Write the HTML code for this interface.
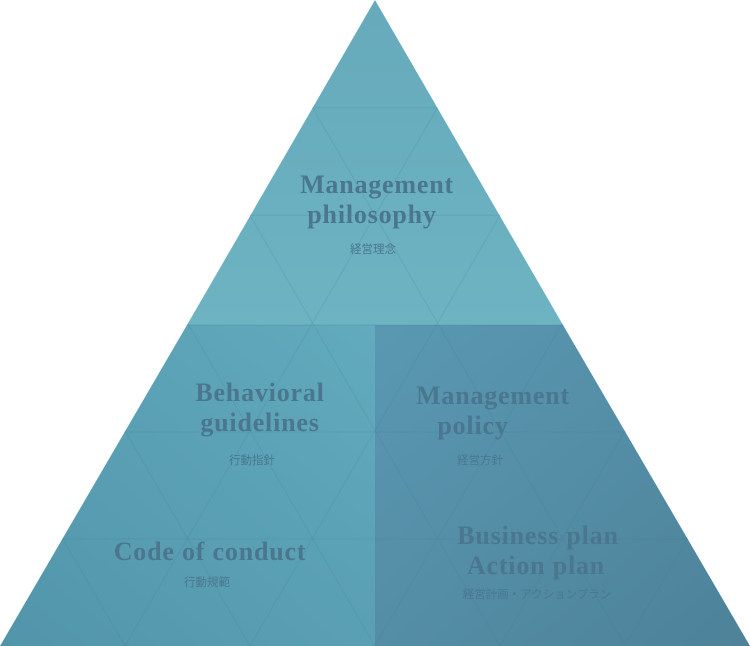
<!DOCTYPE html>
<html><head><meta charset="utf-8"><style>
html,body{margin:0;padding:0;background:#fff;width:750px;height:646px;overflow:hidden}
svg{display:block}
.t{font-family:"Liberation Serif",serif;font-weight:bold;font-size:26px;letter-spacing:0.8px;fill:#4a778f;text-anchor:middle}
.j{font-family:"Liberation Sans","Noto Sans CJK JP",sans-serif;font-size:11.5px;fill:#4a778f;text-anchor:middle}
</style></head><body>
<svg width="750" height="646" viewBox="0 0 750 646">
<defs>
<linearGradient id="gt" x1="0" y1="0" x2="0" y2="1"><stop offset="0" stop-color="#66aabb"/><stop offset="1" stop-color="#6db3c2"/></linearGradient>
<linearGradient id="gl" x1="1" y1="0" x2="0" y2="1"><stop offset="0" stop-color="#62aabd"/><stop offset="1" stop-color="#5295ab"/></linearGradient>
<linearGradient id="gr" x1="0" y1="0" x2="1" y2="1"><stop offset="0" stop-color="#5a98b2"/><stop offset="1" stop-color="#4d8299"/></linearGradient>
<clipPath id="tri"><polygon points="375,0 750,646 0,646"/></clipPath>
</defs>
<polygon points="375,0 563,325 187,325" fill="url(#gt)"/>
<polygon points="187,325 375,325 375,646 0,646" fill="url(#gl)"/>
<polygon points="375,325 563,325 750,646 375,646" fill="url(#gr)"/>
<g clip-path="url(#tri)" stroke="#3f7f92" stroke-opacity="0.18" stroke-width="1.2" fill="none">
<line x1="0" y1="107.7" x2="750" y2="107.7"/>
<line x1="0" y1="215.3" x2="750" y2="215.3"/>
<line x1="0" y1="325" x2="750" y2="325"/>
<line x1="0" y1="432" x2="750" y2="432"/>
<line x1="0" y1="539" x2="750" y2="539"/>
<line x1="125" y1="646" x2="500" y2="0"/>
<line x1="250" y1="646" x2="625" y2="0"/>
<line x1="375" y1="646" x2="750" y2="0"/>
<line x1="500" y1="646" x2="875" y2="0"/>
<line x1="625" y1="646" x2="1000" y2="0"/>
<line x1="125" y1="646" x2="-250" y2="0"/>
<line x1="250" y1="646" x2="-125" y2="0"/>
<line x1="375" y1="646" x2="0" y2="0"/>
<line x1="500" y1="646" x2="125" y2="0"/>
<line x1="625" y1="646" x2="250" y2="0"/>
</g>
<text class="t" x="377" y="193">Management</text>
<text class="t" x="372" y="223">philosophy</text>
<text class="j" x="373" y="253">経営理念</text>
<text class="t" x="260" y="401">Behavioral</text>
<text class="t" x="260" y="431">guidelines</text>
<text class="j" x="252" y="464">行動指針</text>
<text class="t" x="493" y="404">Management</text>
<text class="t" x="473" y="434">policy</text>
<text class="j" x="480" y="464">経営方針</text>
<text class="t" x="210" y="560">Code of conduct</text>
<text class="j" x="207" y="586">行動規範</text>
<text class="t" x="538" y="544">Business plan</text>
<text class="t" x="536" y="574">Action plan</text>
<text class="j" x="537" y="598">経営計画・アクションプラン</text>
</svg>
</body></html>
